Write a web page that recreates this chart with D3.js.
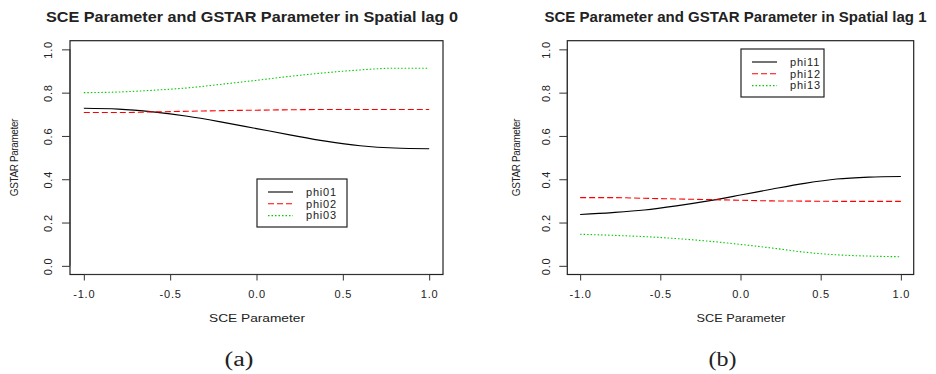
<!DOCTYPE html>
<html>
<head>
<meta charset="utf-8">
<script src="https://cdn.jsdelivr.net/npm/d3@7"></script>
<style>
  body { margin: 0; background: #fff; }
  svg { display: block; }
  text { font-family: "Liberation Sans", Arial, sans-serif; fill: #222; }
</style>
</head>
<body>
<svg id="chart" width="936" height="374"></svg>
<script>
const sceValues = [-1, -0.8, -0.6, -0.4, -0.2, 0, 0.2, 0.4, 0.6, 0.8, 1];

// spatial lag 0
const phi01 = [0.728, 0.724, 0.711, 0.691, 0.664, 0.634, 0.604, 0.576, 0.555, 0.544, 0.541];
const phi02 = [0.708, 0.708, 0.711, 0.714, 0.717, 0.719, 0.721, 0.722, 0.722, 0.722, 0.722];
const phi03 = [0.800, 0.803, 0.811, 0.822, 0.839, 0.857, 0.876, 0.892, 0.905, 0.913, 0.913];

// spatial lag 1
const phi11 = [0.237, 0.246, 0.258, 0.277, 0.300, 0.327, 0.355, 0.381, 0.401, 0.410, 0.413];
const phi12 = [0.315, 0.315, 0.312, 0.309, 0.306, 0.303, 0.300, 0.299, 0.298, 0.298, 0.298];
const phi13 = [0.146, 0.141, 0.135, 0.126, 0.114, 0.099, 0.082, 0.063, 0.051, 0.045, 0.042];

const xTicks = [-1, -0.5, 0, 0.5, 1];
const yTicks = [0, 0.2, 0.4, 0.6, 0.8, 1];

// the two panels are stretched a bit differently, hence the per-panel text widths
const panels = [
  {
    title: "SCE Parameter and GSTAR Parameter in Spatial lag 0",
    caption: "(a)",
    left: 70, right: 443,
    titleX: 252, titleW: 412,
    xTitleX: 257, xTitleW: 96,
    yTitleX: 14.5,
    capX: 239, capW: 29,
    series: [
      { name: "phi01", values: phi01, color: "#000", dash: null },
      { name: "phi02", values: phi02, color: "#ff0000", dash: "6,3" },
      { name: "phi03", values: phi03, color: "#00cc00", dash: "1.5,2" }
    ],
    legend: { x: 257, y: 179, w: 90, h: 48 }
  },
  {
    title: "SCE Parameter and GSTAR Parameter in Spatial lag 1",
    caption: "(b)",
    left: 567.3, right: 913.7,
    titleX: 735.5, titleW: 382,
    xTitleX: 741, xTitleW: 89,
    yTitleX: 516,
    capX: 722.5, capW: 28,
    series: [
      { name: "phi11", values: phi11, color: "#000", dash: null },
      { name: "phi12", values: phi12, color: "#ff0000", dash: "6,3" },
      { name: "phi13", values: phi13, color: "#00cc00", dash: "1.5,2" }
    ],
    legend: { x: 741, y: 49, w: 83, h: 48 }
  }
];

const svg = d3.select("#chart");
const plotTop = 40.7, plotBottom = 274.5;

panels.forEach(p => {
  const g = svg.append("g");

  const x = d3.scaleLinear().domain([-1.08, 1.08]).range([p.left, p.right]);
  const y = d3.scaleLinear().domain([-0.04, 1.04]).range([plotBottom, plotTop]);

  // box
  g.append("rect")
    .attr("x", p.left).attr("y", plotTop)
    .attr("width", p.right - p.left).attr("height", plotBottom - plotTop)
    .attr("fill", "none").attr("stroke", "#222").attr("stroke-width", 1.2);

  // x axis
  const xAxis = g.append("g")
    .attr("transform", `translate(0,${plotBottom})`)
    .call(d3.axisBottom(x).tickValues(xTicks).tickFormat(d3.format(".1f")).tickSize(6).tickPadding(10));
  xAxis.select(".domain").attr("d", `M${x(-1)},0H${x(1)}`).attr("stroke", "#333");
  xAxis.selectAll(".tick line").attr("stroke", "#333");
  xAxis.selectAll("text")
    .style("font-size", "11px").style("letter-spacing", "0.8px")
    .attr("fill", "#222")
    .text(d => d3.format(".1f")(d).replace("−", "-"));

  // y axis (labels rotated like R)
  const yAxis = g.append("g")
    .attr("transform", `translate(${p.left},0)`)
    .call(d3.axisLeft(y).tickValues(yTicks).tickFormat(d3.format(".1f")).tickSize(8));
  yAxis.select(".domain").attr("d", `M0,${y(0)}V${y(1)}`).attr("stroke", "#333");
  yAxis.selectAll(".tick line").attr("stroke", "#333");
  yAxis.selectAll("text")
    .attr("x", 0)
    .attr("text-anchor", "middle")
    .attr("transform", "translate(-21.5,0) rotate(-90)")
    .attr("dy", "0.35em")
    .style("font-size", "11px").style("letter-spacing", "0.8px")
    .attr("fill", "#222");

  // lines
  const line = d3.line()
    .x((d, i) => x(sceValues[i]))
    .y(d => y(d))
    .curve(d3.curveMonotoneX);

  p.series.forEach(s => {
    g.append("path")
      .datum(s.values)
      .attr("d", line)
      .attr("fill", "none")
      .attr("stroke", s.color)
      .attr("stroke-width", 1.1)
      .attr("stroke-dasharray", s.dash);
  });

  // legend
  const lg = g.append("g").attr("transform", `translate(${p.legend.x},${p.legend.y})`);
  lg.append("rect")
    .attr("width", p.legend.w).attr("height", p.legend.h)
    .attr("fill", "#fff").attr("stroke", "#222").attr("stroke-width", 1.2);
  p.series.forEach((s, i) => {
    const yy = 13 + i * 11.8;
    lg.append("line")
      .attr("x1", 11).attr("x2", 36).attr("y1", yy).attr("y2", yy)
      .attr("stroke", s.color).attr("stroke-width", 1.1)
      .attr("stroke-dasharray", s.dash);
    lg.append("text")
      .attr("x", 49).attr("y", yy).attr("dy", "0.35em")
      .style("font-size", "11px").style("letter-spacing", "0.8px")
      .text(s.name);
  });

  // title
  g.append("text")
    .attr("x", p.titleX - p.titleW / 2).attr("y", 21.5)
    .attr("textLength", p.titleW).attr("lengthAdjust", "spacingAndGlyphs")
    .style("font-size", "14px").style("font-weight", "bold")
    .attr("fill", "#111")
    .text(p.title);

  // axis titles
  g.append("text")
    .attr("x", p.xTitleX - p.xTitleW / 2).attr("y", 322)
    .attr("textLength", p.xTitleW).attr("lengthAdjust", "spacingAndGlyphs")
    .style("font-size", "11.5px")
    .text("SCE Parameter");

  g.append("text")
    .attr("transform", `translate(${p.yTitleX + 3.5},${(y(0) + y(1)) / 2}) rotate(-90)`)
    .attr("text-anchor", "middle")
    .style("font-size", "10px").style("letter-spacing", "-0.4px")
    .text("GSTAR Parameter");

  // caption
  g.append("text")
    .attr("x", p.capX - p.capW / 2).attr("y", 365.5)
    .attr("textLength", p.capW).attr("lengthAdjust", "spacingAndGlyphs")
    .style("font-family", "'Liberation Serif', 'Times New Roman', serif")
    .style("font-size", "20px")
    .attr("fill", "#000")
    .text(p.caption);
});
</script>
</body>
</html>
